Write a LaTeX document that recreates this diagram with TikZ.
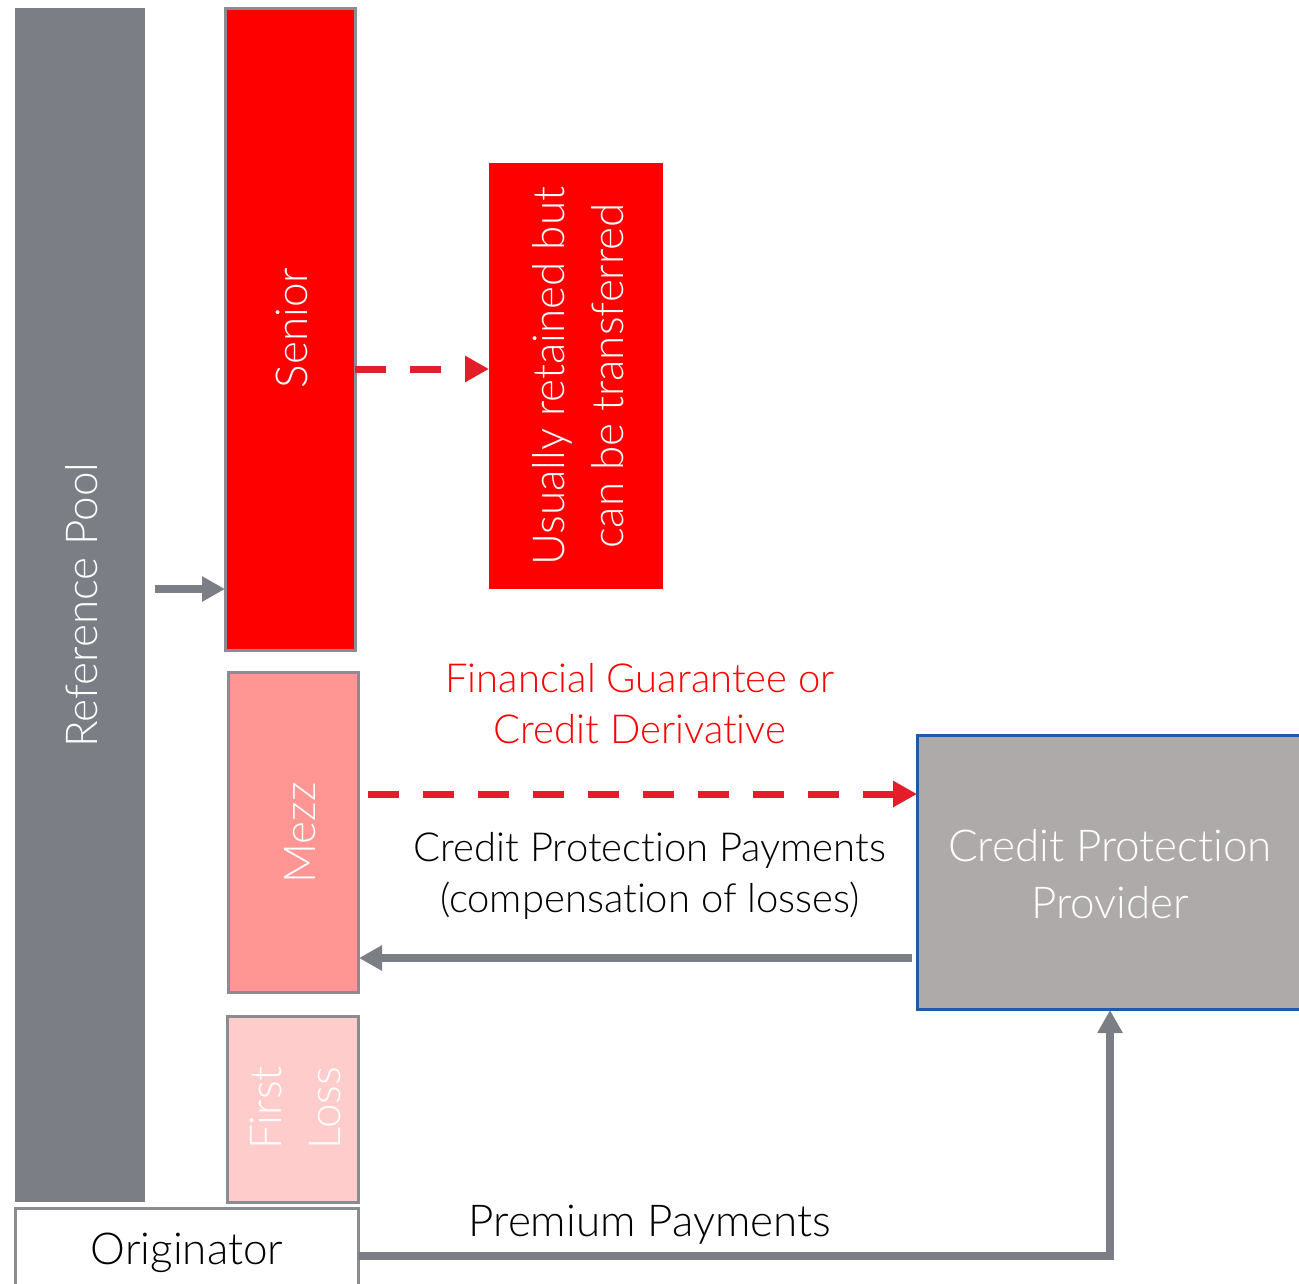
\documentclass[tikz,border=0pt]{standalone}
\usepackage{fontspec}
\setmainfont{Lato}[UprightFont=* Light, Ligatures=NoCommon]
\usetikzlibrary{arrows.meta}
\definecolor{poolgray}{HTML}{7B7E85}
\definecolor{seniorred}{HTML}{FF0000}
\definecolor{mezzred}{HTML}{FF9694}
\definecolor{flpink}{HTML}{FFCCCC}
\definecolor{provgray}{HTML}{ADAAA9}
\definecolor{provblue}{HTML}{1F5AA6}
\definecolor{dashred}{HTML}{E31E2A}
\definecolor{bordergray}{HTML}{8A8C90}
\tikzset{
  box/.style={draw=bordergray, line width=3pt, inner sep=0pt, outer sep=0pt, anchor=north west},
  vtext/.style={rotate=90, text=white, align=center, font=\fontsize{44}{59}\selectfont},
  htext/.style={align=center, font=\fontsize{40}{51}\selectfont},
  grayarrow/.style={draw=poolgray, line width=8pt, -{Triangle[length=23pt,width=24pt]}},
  redarrow/.style={draw=dashred, line width=7pt, dash pattern=on 31pt off 24pt, -{Triangle[length=24pt,width=25pt]}},
}
\begin{document}
\begin{tikzpicture}[x=1pt,y=-1pt]
\useasboundingbox (0,0) rectangle (1299,1283);
\clip (0,0) rectangle (1299,1283);
\fill[white] (0,0) rectangle (1299,1283);
% boxes
\node[box, fill=poolgray, draw=none, minimum width=130pt, minimum height=1194pt] (pool) at (15,8) {};
\node[box, fill=seniorred, minimum width=130pt, minimum height=642pt] (senior) at (225,8) {};
\node[box, fill=mezzred, minimum width=130pt, minimum height=320pt] (mezz) at (228,672) {};
\node[box, fill=flpink, minimum width=131pt, minimum height=186pt] (first) at (227,1016) {};
\node[box, fill=white, minimum width=343pt, minimum height=120pt] (orig) at (15,1208) {};
\node[box, fill=seniorred, draw=none, minimum width=174pt, minimum height=426pt] (usual) at (489,163) {};
\node[box, fill=provgray, draw=provblue, minimum width=420pt, minimum height=274pt] (prov) at (917,735) {};
% texts
\node[vtext] (pooltxt) at (82,605) {Reference Pool};
\node[vtext] (seniortxt) at (292,328) {Senior};
\node[vtext] (mezztxt) at (300,833) {Mezz};
\node[vtext] (firsttxt) at (295,1108) {First\\Loss};
\node[vtext] (usualtxt) at (578,376) {Usually retained but\\can be transferred};
\node[htext, text=seniorred] (fgtxt) at (640,704) {Financial Guarantee or\\Credit Derivative};
\node[htext] (cpptxt) at (650,876) {Credit Protection Payments\\(compensation of losses)};
\node[htext, text=white, font=\fontsize{44}{57}\selectfont] (provtxt) at (1110,874) {Credit Protection\\Provider};
\node[htext, font=\fontsize{44}{52}\selectfont] (premtxt) at (650,1225) {Premium Payments};
\node[htext, font=\fontsize{44}{52}\selectfont] (origtxt) at (187,1253) {Originator};
% connectors
\coordinate (poolout) at (155,589);
\draw[grayarrow] (poolout) -- (senior.west |- poolout);
\draw[redarrow] (senior.east |- 0,369) -- (usual.west |- 0,369);
\draw[redarrow] ([xshift=10pt]mezz.east |- 0,794) -- (prov.west |- 0,794);
\draw[grayarrow] ([xshift=-5pt]prov.west |- 0,958) -- ([xshift=1pt]mezz.east |- 0,958);
\draw[grayarrow] (orig.east |- 0,1256) -| ([yshift=-1pt]prov.south -| 1110,0);
\end{tikzpicture}
\end{document}
